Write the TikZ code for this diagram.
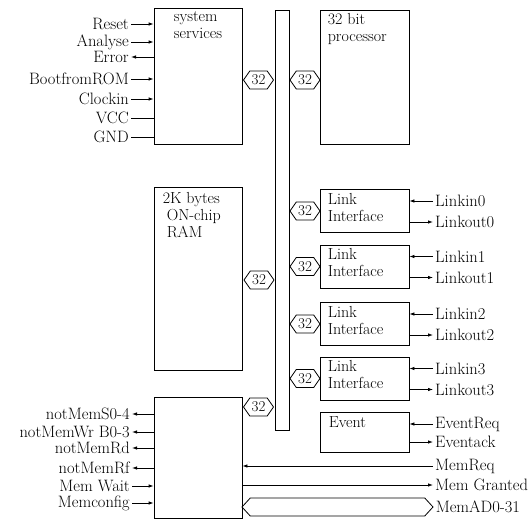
\documentclass[tikz,border=0pt]{standalone}
\usepackage{tikz}
\usetikzlibrary{positioning, arrows.meta, shapes.symbols}

\tikzset{
  blk/.style={draw, line width=0.8pt, minimum width=88pt, inner sep=0pt},
  blktext/.style={font=\fontsize{16}{17}\selectfont, align=left, inner sep=0pt, anchor=north west},
  hexbus/.style={draw, line width=0.8pt, signal, signal to=west and east, signal pointer angle=110,
                 minimum width=30pt, minimum height=18pt, inner sep=0pt, font=\fontsize{15}{15}\selectfont},
  pin/.style={font=\fontsize{16.5}{16.5}\selectfont, inner sep=2pt},
  wire/.style={line width=0.8pt},
  arrin/.style={wire, -{Latex[length=5pt,width=3.5pt]}},
  arrout/.style={wire, {Latex[length=5pt,width=3.5pt]}-},
  bare/.style={wire},
}

\begin{document}
\begin{tikzpicture}[x=1pt, y=1pt]
  \useasboundingbox (0,0) rectangle (529,-521);

  % blocks
  \node[blk, minimum height=136pt] (sys) at (198,-76) {};
  \node[blk, minimum height=134pt, minimum width=89pt] (proc) at (364.5,-77) {};
  \node[blk, minimum height=183pt] (ram) at (198,-278.5) {};
  \node[blk, minimum height=121pt] (mem) at (198,-457.5) {};
  \node[draw, line width=0.8pt, minimum width=14pt, minimum height=420pt, inner sep=0pt] (bus) at (282,-220) {};

  \node[blktext, anchor=north] (systxt) at ([yshift=-4pt]sys.north) {system\\services};
  \node[blktext] (proctxt) at ([xshift=8pt, yshift=-4pt]proc.north west) {32 bit\\processor};
  \node[blktext] (ramtxt) at ([xshift=9pt, yshift=-6pt]ram.north west) {2K bytes\\\hspace*{4pt}ON-chip\\\hspace*{4pt}RAM};

  % bus taps
  \node[hexbus] (hsys) at (258.5,-80) {32};
  \node[hexbus] (hproc) at (305,-80) {32};
  \node[hexbus] (hram) at (259,-280) {32};
  \node[hexbus] (hmem) at (258.5,-407) {32};

  % link interfaces
  \foreach \i/\y in {0/211, 1/266.5, 2/324, 3/378.5} {
    \node[blk, minimum width=89pt, minimum height=43pt] (link\i) at (364.5,-\y) {};
    \node[blktext] (linktxt\i) at ([xshift=8pt, yshift=-4pt]link\i.north west) {Link\\Interface};
    \node[hexbus] (hlink\i) at (305,-\y) {32};
    \node[pin, anchor=west] (lin\i) at (433,-\y+10) {Linkin\i};
    \node[pin, anchor=west] (lout\i) at (433,-\y-11) {Linkout\i};
    \draw[arrin] (lin\i.west) -- (lin\i.west -| link\i.east);
    \draw[arrin] (lout\i.west -| link\i.east) -- (lout\i.west);
  }

  % event
  \node[blk, minimum width=89pt, minimum height=40pt] (event) at (364.5,-432) {};
  \node[blktext] (eventtxt) at ([xshift=9pt, yshift=-5pt]event.north west) {Event};
  \node[pin, anchor=west] (evreq) at (433,-424) {EventReq};
  \node[pin, anchor=west] (evack) at (433,-442) {Eventack};
  \draw[arrin] (evreq.west) -- (evreq.west -| event.east);
  \draw[arrin] (evack.west -| event.east) -- (evack.west);

  % system services pins
  \foreach \y/\nm/\txt/\kind in {24/reset/Reset/arrin, 42/analyse/Analyse/arrin, 57/error/Error/arrout,
                                 79/boot/BootfromROM/arrin, 99/clk/Clockin/arrin,
                                 118/vcc/VCC/bare, 137/gnd/GND/bare} {
    \node[pin, anchor=east] (\nm) at (131,-\y) {\txt};
    \draw[\kind] (\nm.east) -- (\nm.east -| sys.west);
  }

  % memory interface pins
  \foreach \y/\nm/\txt/\kind in {414/mems/notMemS0-4/arrout, 432/memwr/notMemWr B0-3/arrout,
                                 448/memrd/notMemRd/arrout, 468/memrf/notMemRf/arrout,
                                 486/memwait/Mem Wait/arrin, 503/memcfg/Memconfig/arrin} {
    \node[pin, anchor=east] (\nm) at (132,-\y) {\txt};
    \draw[\kind] (\nm.east) -- (\nm.east -| mem.west);
  }

  \node[pin, anchor=west] (memreq) at (433,-466) {MemReq};
  \node[pin, anchor=west] (memgnt) at (433,-485) {Mem Granted};
  \draw[arrin] (memreq.west) -- (memreq.west -| mem.east);
  \draw[arrin] (memgnt.west -| mem.east) -- (memgnt.west);

  \node[hexbus, signal pointer angle=95, minimum width=191pt] (memad) at (337.5,-507) {};
  \node[pin, anchor=west] (memadtxt) at (memad.east) {MemAD0-31};
\end{tikzpicture}
\end{document}
